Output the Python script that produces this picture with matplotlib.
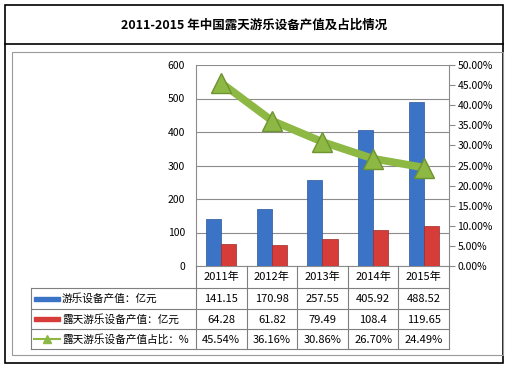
import numpy as np
import matplotlib
matplotlib.use("Agg")
import matplotlib.pyplot as plt
from matplotlib.lines import Line2D
from matplotlib.patches import Rectangle

plt.rcParams['font.family'] = ['Noto Sans CJK SC', 'DejaVu Sans']

years = ["2011年", "2012年", "2013年", "2014年", "2015年"]
equip_value = [141.15, 170.98, 257.55, 405.92, 488.52]
outdoor_value = [64.28, 61.82, 79.49, 108.4, 119.65]
outdoor_share = [45.54, 36.16, 30.86, 26.70, 24.49]
series_names = ["游乐设备产值：亿元", "露天游乐设备产值：亿元", "露天游乐设备产值占比：%"]
equip_labels = ["141.15", "170.98", "257.55", "405.92", "488.52"]
outdoor_labels = ["64.28", "61.82", "79.49", "108.4", "119.65"]
share_labels = ["45.54%", "36.16%", "30.86%", "26.70%", "24.49%"]
title = "2011-2015 年中国露天游乐设备产值及占比情况"

W, H = 506, 368
fig = plt.figure(figsize=(W / 100, H / 100), dpi=100)


def fx(px):
    return px / W


def fy(py):
    return 1 - py / H


def hline(x0, x1, y, color="#7f7f7f", lw=0.8):
    fig.add_artist(Line2D([fx(x0), fx(x1)], [fy(y), fy(y)], color=color, lw=lw))


def vline(x, y0, y1, color="#7f7f7f", lw=0.8):
    fig.add_artist(Line2D([fx(x), fx(x)], [fy(y0), fy(y1)], color=color, lw=lw))


# outer frame and title
fig.add_artist(Rectangle((fx(5), fy(363)), fx(498), 358 / H, fill=False,
                         edgecolor="black", lw=1.2))
hline(5, 503, 44, color="black", lw=1.2)
fig.text(fx(254), fy(25), title, ha="center", va="center", fontsize=9,
         fontweight="bold")
# inner chart frame
fig.add_artist(Rectangle((fx(12), fy(355)), fx(491), 303 / H, fill=False,
                         edgecolor="#9a9a9a", lw=0.8))

# plot area
L, R, T, B = 196, 449, 65, 266
ax = fig.add_axes([fx(L), fy(B), (R - L) / W, (B - T) / H])
x = np.arange(len(years))
bw = 0.3
ax.bar(x - bw / 2, equip_value, bw, color="#3b73c6", edgecolor="#2a559a", lw=0.5,
       zorder=3)
ax.bar(x + bw / 2, outdoor_value, bw, color="#d63c38", edgecolor="#9e2a27", lw=0.5,
       zorder=3)
ax.set_xlim(-0.5, len(years) - 0.5)
ax.set_ylim(0, 600)
ax.set_yticks(range(0, 601, 100))
ax.set_xticks([])
ax.grid(axis="y", color="#8c8c8c", lw=0.8, zorder=0)
ax.tick_params(axis="y", length=0, labelsize=7.5, pad=8)
for s in ["top", "right"]:
    ax.spines[s].set_visible(False)
ax.spines["left"].set_color("#8c8c8c")
ax.spines["bottom"].set_color("#8c8c8c")

ax2 = ax.twinx()
ax2.plot(x, outdoor_share, color="#8db843", lw=5.5, marker="^", ms=15,
         markerfacecolor="#8db843", markeredgecolor="#6e9431", zorder=5)
ax2.set_ylim(0, 50)
ax2.set_yticks(np.arange(0, 50.1, 5))
ax2.set_yticklabels([f"{v:.2f}%" for v in np.arange(0, 50.1, 5)])
ax2.tick_params(axis="y", length=4, labelsize=7.5, color="#8c8c8c", pad=2)
for s in ["top", "left", "bottom"]:
    ax2.spines[s].set_visible(False)
ax2.spines["right"].set_color("#8c8c8c")

# data table
col_w = (R - L) / len(years)
rows_y = [266, 288, 309, 329, 349]
for i in range(len(years) + 1):
    vline(L + i * col_w, 266, 349)
vline(31, 288, 349)
for y in rows_y[1:]:
    hline(31, R, y)
for i, yr in enumerate(years):
    cx = L + (i + 0.5) * col_w
    fig.text(fx(cx), fy(277), yr, ha="center", va="center", fontsize=8)
    for r, labels in enumerate([equip_labels, outdoor_labels, share_labels]):
        fig.text(fx(cx), fy((rows_y[r + 1] + rows_y[r + 2]) / 2 + 1), labels[i],
                 ha="center", va="center", fontsize=8)

for r, name in enumerate(series_names):
    cy = (rows_y[r + 1] + rows_y[r + 2]) / 2
    if r < 2:
        color = ["#3b73c6", "#d63c38"][r]
        fig.add_artist(Rectangle((fx(34), fy(cy + 2)), fx(26), 4 / H,
                                 facecolor=color, edgecolor=color))
    else:
        fig.add_artist(Line2D([fx(34), fx(60)], [fy(cy), fy(cy)], color="#8db843",
                              lw=1.5))
        fig.add_artist(Line2D([fx(47)], [fy(cy)], color="#8db843", marker="^",
                              ms=6, lw=0))
    fig.text(fx(62), fy(cy), name, ha="left", va="center", fontsize=7.7)

fig.savefig("out.png", dpi=100)
